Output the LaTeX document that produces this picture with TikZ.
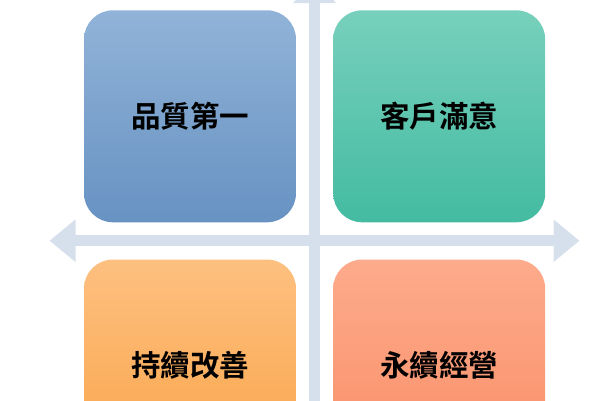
\documentclass[tikz,border=0pt]{standalone}
\usepackage{fontspec}
\newfontfamily\cjk{Noto Sans CJK TC}[BoldFont={Noto Sans CJK TC Bold}]
\usetikzlibrary{arrows.meta}
\definecolor{axisgray}{HTML}{D6E0EC}
\definecolor{bluetop}{HTML}{91B3D8}
\definecolor{bluebot}{HTML}{6792C2}
\definecolor{greentop}{HTML}{77D0BC}
\definecolor{greenbot}{HTML}{44BBA2}
\definecolor{orangetop}{HTML}{FDC080}
\definecolor{orangebot}{HTML}{FAA449}
\definecolor{salmontop}{HTML}{FDAB8C}
\definecolor{salmonbot}{HTML}{FA8E66}
\tikzset{
  quad/.style={rectangle, rounded corners=29pt, minimum width=212pt, minimum height=212pt,
    inner sep=0pt, font=\cjk\bfseries\fontsize{29.5}{32}\selectfont, text=black},
  axis/.style={draw=axisgray, line width=10.7pt,
    {Triangle[length=26pt,width=41pt]}-{Triangle[length=26pt,width=41pt]}}
}
\begin{document}
\begin{tikzpicture}[x=1pt,y=-1pt]
\useasboundingbox (0,0) rectangle (600,400);
\clip (0,0) rectangle (600,400);
% axes
\coordinate (north) at (314.6,-23);
\coordinate (south) at (314.6,504);
\coordinate (west) at (49.5,240.7);
\coordinate (east) at (579.5,240.7);
\draw[axis] (north) -- (south);
\draw[axis] (west) -- (east);
% quadrants
\node[quad, top color=bluetop, bottom color=bluebot] (quality) at (190,116.3){品質第一};
\node[quad, top color=greentop, bottom color=greenbot] (customer) at (439.2,116.3){客戶滿意};
\node[quad, top color=orangetop, bottom color=orangebot] (improve) at (190,365.5){持續改善};
\node[quad, top color=salmontop, bottom color=salmonbot] (business) at (439.2,365.5){永續經營};
\end{tikzpicture}
\end{document}
